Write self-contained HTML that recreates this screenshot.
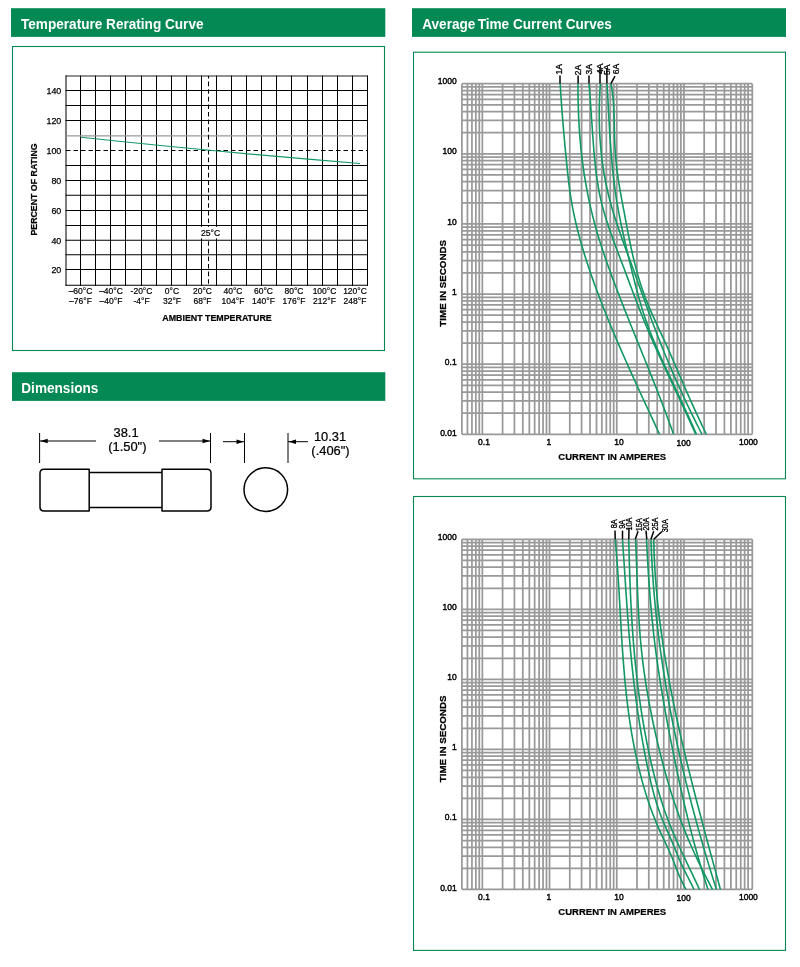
<!DOCTYPE html>
<html lang="en"><head><meta charset="utf-8"><title>Fuse Curves</title>
<style>html,body{margin:0;padding:0;background:#fff;}body{width:800px;height:967px;overflow:hidden;}svg{display:block;}text{font-family:"Liberation Sans", Arial, Helvetica, sans-serif;}</style>
</head><body>
<svg width="800" height="967" viewBox="0 0 800 967">
<rect width="800" height="967" fill="#fff"/>
<rect x="11" y="8.2" width="374.3" height="28.7" fill="#058954"/>
<text transform="translate(21 28.65) scale(0.919 1)" font-size="14.8" font-weight="bold" fill="#fff">Temperature Rerating Curve</text>
<rect x="412" y="8.2" width="374" height="28.7" fill="#058954"/>
<text transform="translate(422.2 28.65) scale(0.919 1)" font-size="14.8" font-weight="bold" fill="#fff">Average<tspan dx="-1.6"> Time</tspan> Current Curves</text>
<rect x="12" y="372.2" width="373.3" height="28.7" fill="#058954"/>
<text transform="translate(21.3 392.75) scale(0.919 1)" font-size="14.8" font-weight="bold" fill="#fff">Dimensions</text>
<rect x="12.5" y="46.5" width="372" height="304" fill="none" stroke="#058954" stroke-width="1.1"/>
<rect x="413.5" y="52.2" width="372" height="426.6" fill="none" stroke="#058954" stroke-width="1.1"/>
<rect x="413.5" y="496.5" width="372" height="453.9" fill="none" stroke="#058954" stroke-width="1.1"/>
<g stroke="#000" stroke-width="1.05" fill="none">
<line x1="66.00" y1="75.50" x2="66.00" y2="285.80" stroke-width="1.2" stroke="#222"/>
<line x1="80.50" y1="75.50" x2="80.50" y2="285.80"/>
<line x1="95.50" y1="75.50" x2="95.50" y2="285.80"/>
<line x1="110.50" y1="75.50" x2="110.50" y2="285.80"/>
<line x1="125.50" y1="75.50" x2="125.50" y2="285.80"/>
<line x1="141.50" y1="75.50" x2="141.50" y2="285.80"/>
<line x1="156.50" y1="75.50" x2="156.50" y2="285.80"/>
<line x1="171.50" y1="75.50" x2="171.50" y2="285.80"/>
<line x1="186.50" y1="75.50" x2="186.50" y2="285.80"/>
<line x1="201.50" y1="75.50" x2="201.50" y2="285.80"/>
<line x1="216.50" y1="75.50" x2="216.50" y2="285.80"/>
<line x1="231.50" y1="75.50" x2="231.50" y2="285.80"/>
<line x1="246.50" y1="75.50" x2="246.50" y2="285.80"/>
<line x1="261.50" y1="75.50" x2="261.50" y2="285.80"/>
<line x1="276.50" y1="75.50" x2="276.50" y2="285.80"/>
<line x1="291.50" y1="75.50" x2="291.50" y2="285.80"/>
<line x1="307.50" y1="75.50" x2="307.50" y2="285.80"/>
<line x1="322.50" y1="75.50" x2="322.50" y2="285.80"/>
<line x1="337.50" y1="75.50" x2="337.50" y2="285.80"/>
<line x1="352.50" y1="75.50" x2="352.50" y2="285.80"/>
<line x1="367.50" y1="75.50" x2="367.50" y2="285.80"/>
<line x1="65.50" y1="76.00" x2="368.00" y2="76.00" stroke-width="1.2" stroke="#222"/>
<line x1="65.50" y1="90.50" x2="368.00" y2="90.50"/>
<line x1="65.50" y1="105.50" x2="368.00" y2="105.50"/>
<line x1="65.50" y1="120.50" x2="368.00" y2="120.50"/>
<line x1="66.00" y1="135.80" x2="367.50" y2="135.80" stroke="#999" stroke-width="1.15"/>
<line x1="65.50" y1="165.50" x2="368.00" y2="165.50"/>
<line x1="65.50" y1="180.50" x2="368.00" y2="180.50"/>
<line x1="65.50" y1="195.22" x2="368.00" y2="195.22"/>
<line x1="65.50" y1="210.50" x2="368.00" y2="210.50"/>
<line x1="65.50" y1="225.50" x2="368.00" y2="225.50"/>
<line x1="65.50" y1="240.25" x2="368.00" y2="240.25"/>
<line x1="65.50" y1="254.75" x2="368.00" y2="254.75"/>
<line x1="65.50" y1="269.50" x2="368.00" y2="269.50"/>
<line x1="65.50" y1="285.30" x2="368.00" y2="285.30"/>
<line x1="66.00" y1="150.50" x2="367.50" y2="150.50" stroke-dasharray="4.5 3"/>
<line x1="208.50" y1="76.00" x2="208.50" y2="285.30" stroke-dasharray="4.6 3" stroke-dashoffset="2"/>
</g>
<path d="M80.90 137.30 Q209.17 151.20 360.07 163.46" stroke="#119863" stroke-width="1.15" fill="none"/>
<g font-size="8.9" text-anchor="end" fill="#000" stroke="#000" stroke-width="0.25">
<text x="61.3" y="273.45">20</text>
<text x="61.3" y="243.55">40</text>
<text x="61.3" y="213.65">60</text>
<text x="61.3" y="183.75">80</text>
<text x="61.3" y="153.85">100</text>
<text x="61.3" y="123.95">120</text>
<text x="61.3" y="94.05">140</text>
</g>
<text transform="translate(37.3 189.5) rotate(-90)" font-size="8.8" font-weight="bold" text-anchor="middle" stroke="#000" stroke-width="0.2">PERCENT OF RATING</text>
<g font-size="8.5" text-anchor="middle" fill="#000" stroke="#000" stroke-width="0.2">
<text x="80.50" y="294">–60°C</text>
<text x="80.50" y="304">–76°F</text>
<text x="111.00" y="294">–40°C</text>
<text x="111.00" y="304">–40°F</text>
<text x="141.50" y="294">-20°C</text>
<text x="141.50" y="304">-4°F</text>
<text x="172.00" y="294">0°C</text>
<text x="172.00" y="304">32°F</text>
<text x="202.50" y="294">20°C</text>
<text x="202.50" y="304">68°F</text>
<text x="233.00" y="294">40°C</text>
<text x="233.00" y="304">104°F</text>
<text x="263.50" y="294">60°C</text>
<text x="263.50" y="304">140°F</text>
<text x="294.00" y="294">80°C</text>
<text x="294.00" y="304">176°F</text>
<text x="324.50" y="294">100°C</text>
<text x="324.50" y="304">212°F</text>
<text x="355.00" y="294">120°C</text>
<text x="355.00" y="304">248°F</text>
</g>
<rect x="200.5" y="226.8" width="20" height="11.6" fill="#fff"/>
<text x="201" y="235.5" font-size="8.6" stroke="#000" stroke-width="0.2">25°C</text>
<text x="217" y="320.5" font-size="8.85" font-weight="bold" text-anchor="middle" stroke="#000" stroke-width="0.2">AMBIENT TEMPERATURE</text>
<g stroke="#000" stroke-width="1" fill="none">
<line x1="39.6" y1="433" x2="39.6" y2="463"/>
<line x1="210.5" y1="433" x2="210.5" y2="463"/>
<line x1="244.5" y1="433" x2="244.5" y2="463"/>
<line x1="288" y1="433" x2="288" y2="463"/>
<line x1="40" y1="441" x2="96" y2="441"/>
<line x1="159" y1="441" x2="210" y2="441"/>
<line x1="223" y1="441.7" x2="244" y2="441.7"/>
<line x1="288" y1="441.7" x2="308" y2="441.7"/>
</g>
<path d="M40.2 441 L47.7 438.8 L47.7 443.2 Z" fill="#000"/>
<path d="M210 441 L202.5 438.8 L202.5 443.2 Z" fill="#000"/>
<path d="M244 441.7 L236.5 439.5 L236.5 443.9 Z" fill="#000"/>
<path d="M288.5 441.7 L296 439.5 L296 443.9 Z" fill="#000"/>
<g stroke="#000" stroke-width="1.5" fill="#fff" stroke-linejoin="round">
<rect x="88" y="472.6" width="75" height="34.9"/>
<path d="M89.2 469.3 H44 Q40 469.3 40 473.3 V507 Q40 511 44 511 H89.2 Z"/>
<path d="M162 469.3 H207 Q211 469.3 211 473.3 V507 Q211 511 207 511 H162 Z"/>
<circle cx="265.8" cy="489.6" r="21.8"/>
</g>
<g font-size="13.4" text-anchor="middle" fill="#000" stroke="#000" stroke-width="0.25">
<text transform="translate(126 437) scale(0.963 1)">38.1</text>
<text transform="translate(127.3 450.5) scale(0.963 1)">(1.50")</text>
<text transform="translate(330 441.4) scale(0.963 1)">10.31</text>
<text transform="translate(330.5 455.4) scale(0.963 1)">(.406")</text>
</g>
<g stroke="#999999" stroke-width="1.75" fill="none">
<line x1="461.92" y1="83.70" x2="461.92" y2="434.35"/>
<line x1="467.44" y1="83.70" x2="467.44" y2="434.35"/>
<line x1="471.94" y1="83.70" x2="471.94" y2="434.35"/>
<line x1="475.84" y1="83.70" x2="475.84" y2="434.35"/>
<line x1="479.28" y1="83.70" x2="479.28" y2="434.35"/>
<line x1="482.35" y1="83.70" x2="482.35" y2="434.35"/>
<line x1="502.58" y1="83.70" x2="502.58" y2="434.35"/>
<line x1="514.41" y1="83.70" x2="514.41" y2="434.35"/>
<line x1="522.81" y1="83.70" x2="522.81" y2="434.35"/>
<line x1="529.32" y1="83.70" x2="529.32" y2="434.35"/>
<line x1="534.64" y1="83.70" x2="534.64" y2="434.35"/>
<line x1="539.14" y1="83.70" x2="539.14" y2="434.35"/>
<line x1="543.04" y1="83.70" x2="543.04" y2="434.35"/>
<line x1="546.48" y1="83.70" x2="546.48" y2="434.35"/>
<line x1="549.55" y1="83.70" x2="549.55" y2="434.35"/>
<line x1="569.78" y1="83.70" x2="569.78" y2="434.35"/>
<line x1="581.61" y1="83.70" x2="581.61" y2="434.35"/>
<line x1="590.01" y1="83.70" x2="590.01" y2="434.35"/>
<line x1="596.52" y1="83.70" x2="596.52" y2="434.35"/>
<line x1="601.84" y1="83.70" x2="601.84" y2="434.35"/>
<line x1="606.34" y1="83.70" x2="606.34" y2="434.35"/>
<line x1="610.24" y1="83.70" x2="610.24" y2="434.35"/>
<line x1="613.68" y1="83.70" x2="613.68" y2="434.35"/>
<line x1="616.75" y1="83.70" x2="616.75" y2="434.35"/>
<line x1="636.98" y1="83.70" x2="636.98" y2="434.35"/>
<line x1="648.81" y1="83.70" x2="648.81" y2="434.35"/>
<line x1="657.21" y1="83.70" x2="657.21" y2="434.35"/>
<line x1="663.72" y1="83.70" x2="663.72" y2="434.35"/>
<line x1="669.04" y1="83.70" x2="669.04" y2="434.35"/>
<line x1="673.54" y1="83.70" x2="673.54" y2="434.35"/>
<line x1="677.44" y1="83.70" x2="677.44" y2="434.35"/>
<line x1="680.88" y1="83.70" x2="680.88" y2="434.35"/>
<line x1="683.95" y1="83.70" x2="683.95" y2="434.35"/>
<line x1="704.18" y1="83.70" x2="704.18" y2="434.35"/>
<line x1="716.01" y1="83.70" x2="716.01" y2="434.35"/>
<line x1="724.41" y1="83.70" x2="724.41" y2="434.35"/>
<line x1="730.92" y1="83.70" x2="730.92" y2="434.35"/>
<line x1="736.24" y1="83.70" x2="736.24" y2="434.35"/>
<line x1="740.74" y1="83.70" x2="740.74" y2="434.35"/>
<line x1="744.64" y1="83.70" x2="744.64" y2="434.35"/>
<line x1="748.08" y1="83.70" x2="748.08" y2="434.35"/>
<line x1="752.30" y1="83.70" x2="752.30" y2="434.35"/>
<line x1="461.92" y1="434.35" x2="752.30" y2="434.35"/>
<line x1="461.92" y1="413.24" x2="752.30" y2="413.24"/>
<line x1="461.92" y1="400.89" x2="752.30" y2="400.89"/>
<line x1="461.92" y1="392.13" x2="752.30" y2="392.13"/>
<line x1="461.92" y1="385.33" x2="752.30" y2="385.33"/>
<line x1="461.92" y1="379.78" x2="752.30" y2="379.78"/>
<line x1="461.92" y1="375.08" x2="752.30" y2="375.08"/>
<line x1="461.92" y1="371.02" x2="752.30" y2="371.02"/>
<line x1="461.92" y1="367.43" x2="752.30" y2="367.43"/>
<line x1="461.92" y1="364.22" x2="752.30" y2="364.22"/>
<line x1="461.92" y1="343.11" x2="752.30" y2="343.11"/>
<line x1="461.92" y1="330.76" x2="752.30" y2="330.76"/>
<line x1="461.92" y1="322.00" x2="752.30" y2="322.00"/>
<line x1="461.92" y1="315.20" x2="752.30" y2="315.20"/>
<line x1="461.92" y1="309.65" x2="752.30" y2="309.65"/>
<line x1="461.92" y1="304.95" x2="752.30" y2="304.95"/>
<line x1="461.92" y1="300.89" x2="752.30" y2="300.89"/>
<line x1="461.92" y1="297.30" x2="752.30" y2="297.30"/>
<line x1="461.92" y1="294.09" x2="752.30" y2="294.09"/>
<line x1="461.92" y1="272.98" x2="752.30" y2="272.98"/>
<line x1="461.92" y1="260.63" x2="752.30" y2="260.63"/>
<line x1="461.92" y1="251.87" x2="752.30" y2="251.87"/>
<line x1="461.92" y1="245.07" x2="752.30" y2="245.07"/>
<line x1="461.92" y1="239.52" x2="752.30" y2="239.52"/>
<line x1="461.92" y1="234.82" x2="752.30" y2="234.82"/>
<line x1="461.92" y1="230.76" x2="752.30" y2="230.76"/>
<line x1="461.92" y1="227.17" x2="752.30" y2="227.17"/>
<line x1="461.92" y1="223.96" x2="752.30" y2="223.96"/>
<line x1="461.92" y1="202.85" x2="752.30" y2="202.85"/>
<line x1="461.92" y1="190.50" x2="752.30" y2="190.50"/>
<line x1="461.92" y1="181.74" x2="752.30" y2="181.74"/>
<line x1="461.92" y1="174.94" x2="752.30" y2="174.94"/>
<line x1="461.92" y1="169.39" x2="752.30" y2="169.39"/>
<line x1="461.92" y1="164.69" x2="752.30" y2="164.69"/>
<line x1="461.92" y1="160.63" x2="752.30" y2="160.63"/>
<line x1="461.92" y1="157.04" x2="752.30" y2="157.04"/>
<line x1="461.92" y1="153.83" x2="752.30" y2="153.83"/>
<line x1="461.92" y1="132.72" x2="752.30" y2="132.72"/>
<line x1="461.92" y1="120.37" x2="752.30" y2="120.37"/>
<line x1="461.92" y1="111.61" x2="752.30" y2="111.61"/>
<line x1="461.92" y1="104.81" x2="752.30" y2="104.81"/>
<line x1="461.92" y1="99.26" x2="752.30" y2="99.26"/>
<line x1="461.92" y1="94.56" x2="752.30" y2="94.56"/>
<line x1="461.92" y1="90.50" x2="752.30" y2="90.50"/>
<line x1="461.92" y1="86.91" x2="752.30" y2="86.91"/>
<line x1="461.92" y1="83.70" x2="752.30" y2="83.70"/>
</g>
<g font-size="8.5" fill="#000" stroke="#000" stroke-width="0.4" text-anchor="end">
<text x="456.7" y="84.00">1000</text>
<text x="456.7" y="154.13">100</text>
<text x="456.7" y="224.56">10</text>
<text x="456.7" y="294.59">1</text>
<text x="456.7" y="365.02">0.1</text>
<text x="456.7" y="435.65">0.01</text>
</g>
<g font-size="8.5" fill="#000" stroke="#000" stroke-width="0.4" text-anchor="middle">
<text x="484.00" y="444.95">0.1</text>
<text x="548.80" y="444.95">1</text>
<text x="619.00" y="444.85">10</text>
<text x="683.60" y="445.95">100</text>
<text x="748.40" y="444.95">1000</text>
</g>
<text x="612.3" y="459.75" font-size="9.5" font-weight="bold" text-anchor="middle" stroke="#000" stroke-width="0.2">CURRENT IN AMPERES</text>
<text transform="translate(446.4 283.30) rotate(-90)" font-size="9.75" font-weight="bold" text-anchor="middle" stroke="#000" stroke-width="0.25">TIME IN SECONDS</text>
<g stroke="#119863" stroke-width="1.6" fill="none" stroke-linejoin="round">
<path d="M560.17 83.70 C560.23 84.71 560.41 87.73 560.54 89.74 C560.66 91.76 560.79 93.77 560.92 95.79 C561.06 97.80 561.20 99.82 561.34 101.83 C561.48 103.85 561.62 105.86 561.77 107.88 C561.92 109.89 562.08 111.91 562.23 113.92 C562.39 115.94 562.55 117.95 562.71 119.97 C562.88 121.98 563.04 124.00 563.21 126.01 C563.38 128.03 563.55 130.04 563.73 132.06 C563.91 134.07 564.08 136.09 564.27 138.10 C564.45 140.12 564.63 142.13 564.82 144.15 C565.00 146.16 565.19 148.18 565.38 150.19 C565.58 152.21 565.77 154.22 565.97 156.24 C566.16 158.25 566.36 160.27 566.56 162.28 C566.76 164.30 566.96 166.31 567.17 168.33 C567.38 170.34 567.59 172.36 567.82 174.37 C568.04 176.39 568.27 178.40 568.51 180.42 C568.75 182.43 569.00 184.45 569.26 186.46 C569.53 188.48 569.80 190.49 570.09 192.51 C570.39 194.52 570.69 196.54 571.02 198.55 C571.34 200.57 571.68 202.58 572.05 204.60 C572.41 206.61 572.79 208.63 573.19 210.64 C573.59 212.66 574.01 214.67 574.44 216.69 C574.88 218.70 575.33 220.72 575.80 222.73 C576.27 224.75 576.76 226.76 577.26 228.78 C577.77 230.79 578.29 232.81 578.82 234.82 C579.36 236.84 579.91 238.85 580.47 240.87 C581.03 242.88 581.61 244.90 582.20 246.91 C582.79 248.93 583.40 250.94 584.02 252.96 C584.64 254.97 585.27 256.99 585.91 259.00 C586.55 261.01 587.21 263.03 587.87 265.04 C588.54 267.06 589.22 269.07 589.91 271.09 C590.59 273.10 591.29 275.12 592.00 277.13 C592.71 279.15 593.42 281.16 594.15 283.18 C594.88 285.19 595.61 287.21 596.36 289.22 C597.10 291.24 597.86 293.25 598.62 295.27 C599.38 297.28 600.15 299.30 600.93 301.31 C601.71 303.33 602.49 305.34 603.29 307.36 C604.08 309.37 604.88 311.39 605.69 313.40 C606.50 315.42 607.31 317.43 608.14 319.45 C608.96 321.46 609.79 323.48 610.62 325.49 C611.46 327.51 612.30 329.52 613.15 331.54 C614.00 333.55 614.85 335.57 615.71 337.58 C616.57 339.60 617.43 341.61 618.30 343.63 C619.17 345.64 620.05 347.66 620.93 349.67 C621.81 351.69 622.69 353.70 623.58 355.72 C624.47 357.73 625.36 359.75 626.26 361.76 C627.16 363.78 628.06 365.79 628.96 367.81 C629.87 369.82 630.78 371.84 631.69 373.85 C632.60 375.87 633.52 377.88 634.43 379.90 C635.35 381.91 636.27 383.93 637.19 385.94 C638.11 387.96 639.04 389.97 639.97 391.99 C640.89 394.00 641.82 396.02 642.75 398.03 C643.68 400.05 644.61 402.06 645.55 404.08 C646.48 406.09 647.41 408.11 648.35 410.12 C649.28 412.14 650.22 414.15 651.15 416.17 C652.09 418.18 653.02 420.20 653.96 422.21 C654.89 424.23 655.83 426.24 656.77 428.26 C657.70 430.27 659.10 433.29 659.57 434.30"/>
<path d="M577.99 83.70 C577.99 84.71 577.99 87.73 578.00 89.74 C578.01 91.76 578.02 93.77 578.05 95.79 C578.08 97.80 578.11 99.82 578.16 101.83 C578.20 103.85 578.26 105.86 578.32 107.88 C578.38 109.89 578.45 111.91 578.53 113.92 C578.62 115.94 578.71 117.95 578.81 119.97 C578.91 121.98 579.02 124.00 579.14 126.01 C579.26 128.03 579.39 130.04 579.54 132.06 C579.68 134.07 579.83 136.09 580.00 138.10 C580.16 140.12 580.34 142.13 580.53 144.15 C580.71 146.16 580.91 148.18 581.12 150.19 C581.33 152.21 581.56 154.22 581.79 156.24 C582.03 158.25 582.27 160.27 582.53 162.28 C582.79 164.30 583.06 166.31 583.35 168.33 C583.64 170.34 583.93 172.36 584.25 174.37 C584.56 176.39 584.88 178.40 585.22 180.42 C585.56 182.43 585.91 184.45 586.28 186.46 C586.65 188.48 587.03 190.49 587.42 192.51 C587.82 194.52 588.23 196.54 588.65 198.55 C589.08 200.57 589.51 202.58 589.97 204.60 C590.42 206.61 590.89 208.63 591.37 210.64 C591.85 212.66 592.35 214.67 592.86 216.69 C593.37 218.70 593.89 220.72 594.43 222.73 C594.97 224.75 595.53 226.76 596.09 228.78 C596.66 230.79 597.25 232.81 597.84 234.82 C598.44 236.84 599.05 238.85 599.68 240.87 C600.30 242.88 600.94 244.90 601.60 246.91 C602.25 248.93 602.92 250.94 603.59 252.96 C604.27 254.97 604.96 256.99 605.66 259.00 C606.36 261.01 607.07 263.03 607.79 265.04 C608.51 267.06 609.23 269.07 609.97 271.09 C610.70 273.10 611.44 275.12 612.19 277.13 C612.94 279.15 613.69 281.16 614.45 283.18 C615.21 285.19 615.98 287.21 616.75 289.22 C617.52 291.24 618.29 293.25 619.07 295.27 C619.85 297.28 620.63 299.30 621.42 301.31 C622.21 303.33 623.00 305.34 623.79 307.36 C624.59 309.37 625.39 311.39 626.19 313.40 C626.99 315.42 627.79 317.43 628.60 319.45 C629.40 321.46 630.21 323.48 631.02 325.49 C631.83 327.51 632.64 329.52 633.46 331.54 C634.27 333.55 635.09 335.57 635.90 337.58 C636.72 339.60 637.53 341.61 638.35 343.63 C639.17 345.64 639.98 347.66 640.80 349.67 C641.62 351.69 642.43 353.70 643.25 355.72 C644.07 357.73 644.88 359.75 645.69 361.76 C646.51 363.78 647.32 365.79 648.13 367.81 C648.94 369.82 649.75 371.84 650.56 373.85 C651.37 375.87 652.17 377.88 652.97 379.90 C653.77 381.91 654.57 383.93 655.37 385.94 C656.16 387.96 656.96 389.97 657.74 391.99 C658.53 394.00 659.32 396.02 660.10 398.03 C660.88 400.05 661.65 402.06 662.42 404.08 C663.19 406.09 663.96 408.11 664.72 410.12 C665.48 412.14 666.24 414.15 666.99 416.17 C667.74 418.18 668.48 420.20 669.22 422.21 C669.95 424.23 670.68 426.24 671.41 428.26 C672.13 430.27 673.20 433.29 673.56 434.30"/>
<path d="M588.99 83.70 C589.07 84.71 589.33 87.73 589.49 89.74 C589.65 91.76 589.80 93.77 589.96 95.79 C590.11 97.80 590.26 99.82 590.41 101.83 C590.55 103.85 590.70 105.86 590.84 107.88 C590.98 109.89 591.12 111.91 591.26 113.92 C591.40 115.94 591.54 117.95 591.67 119.97 C591.81 121.98 591.95 124.00 592.09 126.01 C592.23 128.03 592.37 130.04 592.51 132.06 C592.65 134.07 592.79 136.09 592.94 138.10 C593.09 140.12 593.23 142.13 593.39 144.15 C593.54 146.16 593.70 148.18 593.86 150.19 C594.03 152.21 594.20 154.22 594.38 156.24 C594.56 158.25 594.76 160.27 594.96 162.28 C595.17 164.30 595.38 166.31 595.61 168.33 C595.85 170.34 596.09 172.36 596.36 174.37 C596.63 176.39 596.91 178.40 597.21 180.42 C597.52 182.43 597.84 184.45 598.19 186.46 C598.54 188.48 598.91 190.49 599.30 192.51 C599.70 194.52 600.12 196.54 600.57 198.55 C601.02 200.57 601.50 202.58 602.01 204.60 C602.52 206.61 603.06 208.63 603.62 210.64 C604.18 212.66 604.77 214.67 605.38 216.69 C605.99 218.70 606.63 220.72 607.28 222.73 C607.94 224.75 608.61 226.76 609.30 228.78 C609.99 230.79 610.69 232.81 611.41 234.82 C612.13 236.84 612.86 238.85 613.60 240.87 C614.34 242.88 615.09 244.90 615.84 246.91 C616.60 248.93 617.36 250.94 618.13 252.96 C618.89 254.97 619.66 256.99 620.43 259.00 C621.19 261.01 621.96 263.03 622.73 265.04 C623.49 267.06 624.25 269.07 625.01 271.09 C625.77 273.10 626.53 275.12 627.28 277.13 C628.04 279.15 628.80 281.16 629.55 283.18 C630.31 285.19 631.07 287.21 631.83 289.22 C632.59 291.24 633.35 293.25 634.11 295.27 C634.88 297.28 635.65 299.30 636.42 301.31 C637.20 303.33 637.97 305.34 638.76 307.36 C639.55 309.37 640.34 311.39 641.14 313.40 C641.94 315.42 642.74 317.43 643.56 319.45 C644.38 321.46 645.20 323.48 646.04 325.49 C646.87 327.51 647.72 329.52 648.58 331.54 C649.44 333.55 650.30 335.57 651.18 337.58 C652.06 339.60 652.94 341.61 653.84 343.63 C654.73 345.64 655.63 347.66 656.54 349.67 C657.45 351.69 658.37 353.70 659.29 355.72 C660.21 357.73 661.14 359.75 662.07 361.76 C663.00 363.78 663.94 365.79 664.88 367.81 C665.82 369.82 666.76 371.84 667.71 373.85 C668.65 375.87 669.60 377.88 670.55 379.90 C671.50 381.91 672.45 383.93 673.40 385.94 C674.35 387.96 675.30 389.97 676.25 391.99 C677.20 394.00 678.15 396.02 679.10 398.03 C680.05 400.05 680.99 402.06 681.94 404.08 C682.88 406.09 683.82 408.11 684.75 410.12 C685.69 412.14 686.62 414.15 687.54 416.17 C688.47 418.18 689.39 420.20 690.30 422.21 C691.21 424.23 692.12 426.24 693.02 428.26 C693.91 430.27 695.24 433.29 695.69 434.30"/>
<path d="M600.40 83.70 C600.33 84.71 600.12 87.73 600.00 89.74 C599.88 91.76 599.78 93.77 599.68 95.79 C599.59 97.80 599.51 99.82 599.45 101.83 C599.39 103.85 599.34 105.86 599.31 107.88 C599.27 109.89 599.25 111.91 599.25 113.92 C599.25 115.94 599.26 117.95 599.28 119.97 C599.31 121.98 599.36 124.00 599.42 126.01 C599.48 128.03 599.55 130.04 599.64 132.06 C599.74 134.07 599.85 136.09 599.97 138.10 C600.10 140.12 600.24 142.13 600.41 144.15 C600.57 146.16 600.75 148.18 600.94 150.19 C601.14 152.21 601.36 154.22 601.59 156.24 C601.83 158.25 602.08 160.27 602.35 162.28 C602.62 164.30 602.91 166.31 603.22 168.33 C603.53 170.34 603.86 172.36 604.21 174.37 C604.56 176.39 604.93 178.40 605.32 180.42 C605.71 182.43 606.12 184.45 606.55 186.46 C606.98 188.48 607.43 190.49 607.91 192.51 C608.38 194.52 608.87 196.54 609.39 198.55 C609.90 200.57 610.44 202.58 611.00 204.60 C611.56 206.61 612.14 208.63 612.74 210.64 C613.34 212.66 613.96 214.67 614.59 216.69 C615.23 218.70 615.88 220.72 616.54 222.73 C617.21 224.75 617.89 226.76 618.58 228.78 C619.27 230.79 619.97 232.81 620.68 234.82 C621.39 236.84 622.11 238.85 622.83 240.87 C623.56 242.88 624.29 244.90 625.02 246.91 C625.76 248.93 626.50 250.94 627.24 252.96 C627.98 254.97 628.73 256.99 629.47 259.00 C630.21 261.01 630.95 263.03 631.69 265.04 C632.43 267.06 633.16 269.07 633.89 271.09 C634.63 273.10 635.36 275.12 636.09 277.13 C636.81 279.15 637.54 281.16 638.27 283.18 C638.99 285.19 639.72 287.21 640.44 289.22 C641.17 291.24 641.89 293.25 642.62 295.27 C643.35 297.28 644.07 299.30 644.81 301.31 C645.54 303.33 646.27 305.34 647.00 307.36 C647.74 309.37 648.47 311.39 649.21 313.40 C649.96 315.42 650.70 317.43 651.45 319.45 C652.20 321.46 652.95 323.48 653.71 325.49 C654.47 327.51 655.24 329.52 656.01 331.54 C656.78 333.55 657.56 335.57 658.34 337.58 C659.13 339.60 659.92 341.61 660.72 343.63 C661.52 345.64 662.33 347.66 663.14 349.67 C663.96 351.69 664.78 353.70 665.61 355.72 C666.44 357.73 667.28 359.75 668.12 361.76 C668.97 363.78 669.82 365.79 670.69 367.81 C671.55 369.82 672.42 371.84 673.29 373.85 C674.17 375.87 675.06 377.88 675.95 379.90 C676.84 381.91 677.74 383.93 678.65 385.94 C679.56 387.96 680.47 389.97 681.40 391.99 C682.32 394.00 683.26 396.02 684.20 398.03 C685.14 400.05 686.09 402.06 687.04 404.08 C688.00 406.09 688.96 408.11 689.94 410.12 C690.91 412.14 691.89 414.15 692.88 416.17 C693.87 418.18 694.86 420.20 695.87 422.21 C696.87 424.23 697.89 426.24 698.91 428.26 C699.93 430.27 701.48 433.29 702.00 434.30"/>
<path d="M607.00 83.70 C607.06 84.71 607.24 87.73 607.36 89.74 C607.47 91.76 607.59 93.77 607.70 95.79 C607.81 97.80 607.92 99.82 608.03 101.83 C608.14 103.85 608.24 105.86 608.35 107.88 C608.46 109.89 608.57 111.91 608.68 113.92 C608.79 115.94 608.90 117.95 609.01 119.97 C609.12 121.98 609.24 124.00 609.36 126.01 C609.47 128.03 609.59 130.04 609.72 132.06 C609.84 134.07 609.97 136.09 610.10 138.10 C610.23 140.12 610.37 142.13 610.51 144.15 C610.65 146.16 610.80 148.18 610.96 150.19 C611.11 152.21 611.27 154.22 611.44 156.24 C611.61 158.25 611.78 160.27 611.97 162.28 C612.15 164.30 612.34 166.31 612.55 168.33 C612.75 170.34 612.96 172.36 613.18 174.37 C613.40 176.39 613.63 178.40 613.87 180.42 C614.11 182.43 614.37 184.45 614.63 186.46 C614.89 188.48 615.17 190.49 615.46 192.51 C615.75 194.52 616.05 196.54 616.37 198.55 C616.68 200.57 617.01 202.58 617.35 204.60 C617.70 206.61 618.06 208.63 618.43 210.64 C618.80 212.66 619.18 214.67 619.57 216.69 C619.96 218.70 620.37 220.72 620.78 222.73 C621.20 224.75 621.62 226.76 622.06 228.78 C622.49 230.79 622.93 232.81 623.38 234.82 C623.83 236.84 624.28 238.85 624.75 240.87 C625.21 242.88 625.68 244.90 626.15 246.91 C626.62 248.93 627.10 250.94 627.58 252.96 C628.06 254.97 628.54 256.99 629.03 259.00 C629.51 261.01 630.00 263.03 630.49 265.04 C630.98 267.06 631.46 269.07 631.96 271.09 C632.45 273.10 632.94 275.12 633.44 277.13 C633.95 279.15 634.45 281.16 634.97 283.18 C635.48 285.19 636.00 287.21 636.54 289.22 C637.07 291.24 637.61 293.25 638.17 295.27 C638.73 297.28 639.29 299.30 639.88 301.31 C640.47 303.33 641.07 305.34 641.68 307.36 C642.30 309.37 642.94 311.39 643.59 313.40 C644.25 315.42 644.92 317.43 645.61 319.45 C646.30 321.46 647.01 323.48 647.75 325.49 C648.48 327.51 649.24 329.52 650.01 331.54 C650.79 333.55 651.59 335.57 652.40 337.58 C653.22 339.60 654.05 341.61 654.90 343.63 C655.75 345.64 656.61 347.66 657.49 349.67 C658.36 351.69 659.26 353.70 660.16 355.72 C661.06 357.73 661.97 359.75 662.89 361.76 C663.81 363.78 664.74 365.79 665.68 367.81 C666.61 369.82 667.56 371.84 668.50 373.85 C669.45 375.87 670.40 377.88 671.35 379.90 C672.30 381.91 673.25 383.93 674.21 385.94 C675.16 387.96 676.11 389.97 677.06 391.99 C678.01 394.00 678.96 396.02 679.90 398.03 C680.85 400.05 681.79 402.06 682.73 404.08 C683.67 406.09 684.61 408.11 685.54 410.12 C686.47 412.14 687.40 414.15 688.33 416.17 C689.25 418.18 690.17 420.20 691.08 422.21 C692.00 424.23 692.90 426.24 693.81 428.26 C694.71 430.27 696.04 433.29 696.49 434.30"/>
<path d="M611.00 83.70 C611.17 84.71 611.74 87.73 612.04 89.74 C612.35 91.76 612.60 93.77 612.82 95.79 C613.05 97.80 613.23 99.82 613.39 101.83 C613.54 103.85 613.66 105.86 613.77 107.88 C613.88 109.89 613.95 111.91 614.02 113.92 C614.09 115.94 614.14 117.95 614.19 119.97 C614.23 121.98 614.27 124.00 614.30 126.01 C614.34 128.03 614.38 130.04 614.42 132.06 C614.47 134.07 614.51 136.09 614.58 138.10 C614.65 140.12 614.73 142.13 614.83 144.15 C614.93 146.16 615.04 148.18 615.17 150.19 C615.30 152.21 615.45 154.22 615.62 156.24 C615.78 158.25 615.97 160.27 616.17 162.28 C616.37 164.30 616.58 166.31 616.82 168.33 C617.05 170.34 617.30 172.36 617.57 174.37 C617.83 176.39 618.12 178.40 618.42 180.42 C618.72 182.43 619.04 184.45 619.38 186.46 C619.72 188.48 620.07 190.49 620.44 192.51 C620.81 194.52 621.20 196.54 621.58 198.55 C621.96 200.57 622.35 202.58 622.73 204.60 C623.11 206.61 623.49 208.63 623.86 210.64 C624.24 212.66 624.62 214.67 624.99 216.69 C625.37 218.70 625.74 220.72 626.12 222.73 C626.50 224.75 626.88 226.76 627.27 228.78 C627.65 230.79 628.04 232.81 628.44 234.82 C628.84 236.84 629.24 238.85 629.65 240.87 C630.07 242.88 630.49 244.90 630.92 246.91 C631.35 248.93 631.80 250.94 632.25 252.96 C632.71 254.97 633.17 256.99 633.66 259.00 C634.14 261.01 634.64 263.03 635.15 265.04 C635.67 267.06 636.20 269.07 636.75 271.09 C637.30 273.10 637.87 275.12 638.46 277.13 C639.05 279.15 639.67 281.16 640.30 283.18 C640.94 285.19 641.60 287.21 642.28 289.22 C642.97 291.24 643.67 293.25 644.41 295.27 C645.15 297.28 645.92 299.30 646.71 301.31 C647.51 303.33 648.33 305.34 649.18 307.36 C650.03 309.37 650.91 311.39 651.81 313.40 C652.70 315.42 653.61 317.43 654.54 319.45 C655.46 321.46 656.40 323.48 657.34 325.49 C658.28 327.51 659.23 329.52 660.17 331.54 C661.11 333.55 662.05 335.57 662.99 337.58 C663.92 339.60 664.84 341.61 665.75 343.63 C666.67 345.64 667.57 347.66 668.46 349.67 C669.36 351.69 670.24 353.70 671.12 355.72 C672.01 357.73 672.88 359.75 673.75 361.76 C674.63 363.78 675.49 365.79 676.36 367.81 C677.23 369.82 678.09 371.84 678.96 373.85 C679.83 375.87 680.69 377.88 681.57 379.90 C682.44 381.91 683.31 383.93 684.19 385.94 C685.07 387.96 685.95 389.97 686.84 391.99 C687.73 394.00 688.63 396.02 689.53 398.03 C690.43 400.05 691.33 402.06 692.24 404.08 C693.15 406.09 694.07 408.11 694.99 410.12 C695.91 412.14 696.84 414.15 697.77 416.17 C698.70 418.18 699.64 420.20 700.58 422.21 C701.52 424.23 702.47 426.24 703.42 428.26 C704.38 430.27 705.82 433.29 706.30 434.30"/>
</g>
<line x1="560" y1="75.6" x2="560" y2="83.6" stroke="#000" stroke-width="1.5"/>
<text transform="translate(562.3 74.6) rotate(-90) scale(1 1)" font-size="8.5" fill="#000" stroke="#000" stroke-width="0.3">1A</text>
<line x1="578.1" y1="75.6" x2="578.1" y2="83.6" stroke="#000" stroke-width="1.5"/>
<text transform="translate(580.6 75.2) rotate(-90) scale(1 1)" font-size="8.5" fill="#000" stroke="#000" stroke-width="0.3">2A</text>
<line x1="589" y1="75.6" x2="589" y2="83.6" stroke="#000" stroke-width="1.5"/>
<text transform="translate(591.9 74.6) rotate(-90) scale(1 1)" font-size="8.5" fill="#000" stroke="#000" stroke-width="0.3">3A</text>
<line x1="600" y1="68" x2="600" y2="83.6" stroke="#000" stroke-width="1.5"/>
<text transform="translate(602.5 74) rotate(-90) scale(1 1)" font-size="8.5" fill="#000" stroke="#000" stroke-width="0.3">4A</text>
<line x1="606.9" y1="68" x2="606.9" y2="83.6" stroke="#000" stroke-width="1.5"/>
<text transform="translate(610 75) rotate(-90) scale(1 1)" font-size="8.5" fill="#000" stroke="#000" stroke-width="0.3">5A</text>
<line x1="615" y1="76.2" x2="610.9" y2="83.6" stroke="#000" stroke-width="1.5"/>
<text transform="translate(619 74.2) rotate(-90) scale(1 1)" font-size="8.5" fill="#000" stroke="#000" stroke-width="0.3">6A</text>
<g stroke="#999999" stroke-width="1.75" fill="none">
<line x1="461.92" y1="539.30" x2="461.92" y2="889.45"/>
<line x1="467.44" y1="539.30" x2="467.44" y2="889.45"/>
<line x1="471.94" y1="539.30" x2="471.94" y2="889.45"/>
<line x1="475.84" y1="539.30" x2="475.84" y2="889.45"/>
<line x1="479.28" y1="539.30" x2="479.28" y2="889.45"/>
<line x1="482.35" y1="539.30" x2="482.35" y2="889.45"/>
<line x1="502.58" y1="539.30" x2="502.58" y2="889.45"/>
<line x1="514.41" y1="539.30" x2="514.41" y2="889.45"/>
<line x1="522.81" y1="539.30" x2="522.81" y2="889.45"/>
<line x1="529.32" y1="539.30" x2="529.32" y2="889.45"/>
<line x1="534.64" y1="539.30" x2="534.64" y2="889.45"/>
<line x1="539.14" y1="539.30" x2="539.14" y2="889.45"/>
<line x1="543.04" y1="539.30" x2="543.04" y2="889.45"/>
<line x1="546.48" y1="539.30" x2="546.48" y2="889.45"/>
<line x1="549.55" y1="539.30" x2="549.55" y2="889.45"/>
<line x1="569.78" y1="539.30" x2="569.78" y2="889.45"/>
<line x1="581.61" y1="539.30" x2="581.61" y2="889.45"/>
<line x1="590.01" y1="539.30" x2="590.01" y2="889.45"/>
<line x1="596.52" y1="539.30" x2="596.52" y2="889.45"/>
<line x1="601.84" y1="539.30" x2="601.84" y2="889.45"/>
<line x1="606.34" y1="539.30" x2="606.34" y2="889.45"/>
<line x1="610.24" y1="539.30" x2="610.24" y2="889.45"/>
<line x1="613.68" y1="539.30" x2="613.68" y2="889.45"/>
<line x1="616.75" y1="539.30" x2="616.75" y2="889.45"/>
<line x1="636.98" y1="539.30" x2="636.98" y2="889.45"/>
<line x1="648.81" y1="539.30" x2="648.81" y2="889.45"/>
<line x1="657.21" y1="539.30" x2="657.21" y2="889.45"/>
<line x1="663.72" y1="539.30" x2="663.72" y2="889.45"/>
<line x1="669.04" y1="539.30" x2="669.04" y2="889.45"/>
<line x1="673.54" y1="539.30" x2="673.54" y2="889.45"/>
<line x1="677.44" y1="539.30" x2="677.44" y2="889.45"/>
<line x1="680.88" y1="539.30" x2="680.88" y2="889.45"/>
<line x1="683.95" y1="539.30" x2="683.95" y2="889.45"/>
<line x1="704.18" y1="539.30" x2="704.18" y2="889.45"/>
<line x1="716.01" y1="539.30" x2="716.01" y2="889.45"/>
<line x1="724.41" y1="539.30" x2="724.41" y2="889.45"/>
<line x1="730.92" y1="539.30" x2="730.92" y2="889.45"/>
<line x1="736.24" y1="539.30" x2="736.24" y2="889.45"/>
<line x1="740.74" y1="539.30" x2="740.74" y2="889.45"/>
<line x1="744.64" y1="539.30" x2="744.64" y2="889.45"/>
<line x1="748.08" y1="539.30" x2="748.08" y2="889.45"/>
<line x1="752.30" y1="539.30" x2="752.30" y2="889.45"/>
<line x1="461.92" y1="889.45" x2="752.30" y2="889.45"/>
<line x1="461.92" y1="868.37" x2="752.30" y2="868.37"/>
<line x1="461.92" y1="856.04" x2="752.30" y2="856.04"/>
<line x1="461.92" y1="847.29" x2="752.30" y2="847.29"/>
<line x1="461.92" y1="840.50" x2="752.30" y2="840.50"/>
<line x1="461.92" y1="834.96" x2="752.30" y2="834.96"/>
<line x1="461.92" y1="830.27" x2="752.30" y2="830.27"/>
<line x1="461.92" y1="826.21" x2="752.30" y2="826.21"/>
<line x1="461.92" y1="822.62" x2="752.30" y2="822.62"/>
<line x1="461.92" y1="819.42" x2="752.30" y2="819.42"/>
<line x1="461.92" y1="798.34" x2="752.30" y2="798.34"/>
<line x1="461.92" y1="786.01" x2="752.30" y2="786.01"/>
<line x1="461.92" y1="777.26" x2="752.30" y2="777.26"/>
<line x1="461.92" y1="770.47" x2="752.30" y2="770.47"/>
<line x1="461.92" y1="764.93" x2="752.30" y2="764.93"/>
<line x1="461.92" y1="760.24" x2="752.30" y2="760.24"/>
<line x1="461.92" y1="756.18" x2="752.30" y2="756.18"/>
<line x1="461.92" y1="752.59" x2="752.30" y2="752.59"/>
<line x1="461.92" y1="749.39" x2="752.30" y2="749.39"/>
<line x1="461.92" y1="728.31" x2="752.30" y2="728.31"/>
<line x1="461.92" y1="715.98" x2="752.30" y2="715.98"/>
<line x1="461.92" y1="707.23" x2="752.30" y2="707.23"/>
<line x1="461.92" y1="700.44" x2="752.30" y2="700.44"/>
<line x1="461.92" y1="694.90" x2="752.30" y2="694.90"/>
<line x1="461.92" y1="690.21" x2="752.30" y2="690.21"/>
<line x1="461.92" y1="686.15" x2="752.30" y2="686.15"/>
<line x1="461.92" y1="682.56" x2="752.30" y2="682.56"/>
<line x1="461.92" y1="679.36" x2="752.30" y2="679.36"/>
<line x1="461.92" y1="658.28" x2="752.30" y2="658.28"/>
<line x1="461.92" y1="645.95" x2="752.30" y2="645.95"/>
<line x1="461.92" y1="637.20" x2="752.30" y2="637.20"/>
<line x1="461.92" y1="630.41" x2="752.30" y2="630.41"/>
<line x1="461.92" y1="624.87" x2="752.30" y2="624.87"/>
<line x1="461.92" y1="620.18" x2="752.30" y2="620.18"/>
<line x1="461.92" y1="616.12" x2="752.30" y2="616.12"/>
<line x1="461.92" y1="612.53" x2="752.30" y2="612.53"/>
<line x1="461.92" y1="609.33" x2="752.30" y2="609.33"/>
<line x1="461.92" y1="588.25" x2="752.30" y2="588.25"/>
<line x1="461.92" y1="575.92" x2="752.30" y2="575.92"/>
<line x1="461.92" y1="567.17" x2="752.30" y2="567.17"/>
<line x1="461.92" y1="560.38" x2="752.30" y2="560.38"/>
<line x1="461.92" y1="554.84" x2="752.30" y2="554.84"/>
<line x1="461.92" y1="550.15" x2="752.30" y2="550.15"/>
<line x1="461.92" y1="546.09" x2="752.30" y2="546.09"/>
<line x1="461.92" y1="542.50" x2="752.30" y2="542.50"/>
<line x1="461.92" y1="539.30" x2="752.30" y2="539.30"/>
</g>
<g font-size="8.5" fill="#000" stroke="#000" stroke-width="0.4" text-anchor="end">
<text x="456.7" y="539.60">1000</text>
<text x="456.7" y="609.63">100</text>
<text x="456.7" y="679.96">10</text>
<text x="456.7" y="749.89">1</text>
<text x="456.7" y="820.22">0.1</text>
<text x="456.7" y="890.75">0.01</text>
</g>
<g font-size="8.5" fill="#000" stroke="#000" stroke-width="0.4" text-anchor="middle">
<text x="484.00" y="900.05">0.1</text>
<text x="548.80" y="900.05">1</text>
<text x="619.00" y="899.95">10</text>
<text x="683.60" y="901.05">100</text>
<text x="748.40" y="900.05">1000</text>
</g>
<text x="612.3" y="914.85" font-size="9.5" font-weight="bold" text-anchor="middle" stroke="#000" stroke-width="0.2">CURRENT IN AMPERES</text>
<text transform="translate(446.4 738.90) rotate(-90)" font-size="9.75" font-weight="bold" text-anchor="middle" stroke="#000" stroke-width="0.25">TIME IN SECONDS</text>
<g stroke="#119863" stroke-width="1.6" fill="none" stroke-linejoin="round">
<path d="M615.24 539.40 C615.33 540.41 615.60 543.42 615.78 545.44 C615.95 547.45 616.12 549.46 616.29 551.47 C616.45 553.48 616.61 555.50 616.76 557.51 C616.92 559.52 617.06 561.53 617.21 563.54 C617.36 565.56 617.50 567.57 617.63 569.58 C617.77 571.59 617.90 573.61 618.04 575.62 C618.17 577.63 618.29 579.64 618.42 581.65 C618.54 583.67 618.67 585.68 618.79 587.69 C618.91 589.70 619.03 591.71 619.14 593.73 C619.26 595.74 619.38 597.75 619.49 599.76 C619.61 601.77 619.72 603.79 619.84 605.80 C619.95 607.81 620.06 609.82 620.18 611.83 C620.29 613.85 620.40 615.86 620.52 617.87 C620.63 619.88 620.75 621.89 620.87 623.91 C620.98 625.92 621.10 627.93 621.22 629.94 C621.34 631.96 621.46 633.97 621.58 635.98 C621.71 637.99 621.83 640.00 621.96 642.02 C622.09 644.03 622.23 646.04 622.36 648.05 C622.50 650.06 622.64 652.08 622.78 654.09 C622.92 656.10 623.07 658.11 623.22 660.12 C623.37 662.14 623.53 664.15 623.69 666.16 C623.85 668.17 624.02 670.18 624.19 672.20 C624.36 674.21 624.54 676.22 624.72 678.23 C624.91 680.24 625.09 682.26 625.29 684.27 C625.49 686.28 625.69 688.29 625.90 690.31 C626.11 692.32 626.33 694.33 626.56 696.34 C626.78 698.35 627.01 700.37 627.26 702.38 C627.50 704.39 627.75 706.40 628.01 708.41 C628.26 710.43 628.53 712.44 628.81 714.45 C629.09 716.46 629.37 718.47 629.67 720.49 C629.97 722.50 630.27 724.51 630.59 726.52 C630.91 728.53 631.23 730.55 631.57 732.56 C631.91 734.57 632.26 736.58 632.62 738.59 C632.98 740.61 633.35 742.62 633.74 744.63 C634.12 746.64 634.52 748.66 634.93 750.67 C635.34 752.68 635.76 754.69 636.20 756.70 C636.63 758.72 637.08 760.73 637.54 762.74 C638.01 764.75 638.48 766.76 638.97 768.78 C639.46 770.79 639.97 772.80 640.49 774.81 C641.01 776.82 641.54 778.84 642.09 780.85 C642.64 782.86 643.21 784.87 643.80 786.88 C644.38 788.90 644.99 790.91 645.61 792.92 C646.23 794.93 646.87 796.94 647.53 798.96 C648.19 800.97 648.87 802.98 649.57 804.99 C650.27 807.01 650.99 809.02 651.73 811.03 C652.48 813.04 653.24 815.05 654.03 817.07 C654.82 819.08 655.63 821.09 656.47 823.10 C657.30 825.11 658.16 827.13 659.05 829.14 C659.93 831.15 660.84 833.16 661.78 835.17 C662.71 837.19 663.68 839.20 664.64 841.21 C665.60 843.22 666.58 845.23 667.52 847.25 C668.46 849.26 669.40 851.27 670.27 853.28 C671.15 855.29 671.97 857.31 672.78 859.32 C673.60 861.33 674.35 863.34 675.14 865.36 C675.92 867.37 676.70 869.38 677.51 871.39 C678.33 873.40 679.15 875.42 680.04 877.43 C680.92 879.44 681.84 881.45 682.83 883.46 C683.82 885.48 685.47 888.49 686.00 889.50"/>
<path d="M622.49 539.40 C622.56 540.41 622.77 543.42 622.91 545.44 C623.05 547.45 623.19 549.46 623.32 551.47 C623.46 553.48 623.59 555.50 623.73 557.51 C623.86 559.52 623.99 561.53 624.12 563.54 C624.25 565.56 624.39 567.57 624.52 569.58 C624.65 571.59 624.78 573.61 624.91 575.62 C625.04 577.63 625.17 579.64 625.30 581.65 C625.44 583.67 625.57 585.68 625.70 587.69 C625.83 589.70 625.97 591.71 626.10 593.73 C626.24 595.74 626.38 597.75 626.51 599.76 C626.65 601.77 626.79 603.79 626.93 605.80 C627.07 607.81 627.22 609.82 627.36 611.83 C627.51 613.85 627.65 615.86 627.80 617.87 C627.95 619.88 628.11 621.89 628.26 623.91 C628.42 625.92 628.58 627.93 628.74 629.94 C628.90 631.96 629.07 633.97 629.23 635.98 C629.40 637.99 629.57 640.00 629.75 642.02 C629.93 644.03 630.11 646.04 630.29 648.05 C630.47 650.06 630.66 652.08 630.86 654.09 C631.05 656.10 631.25 658.11 631.45 660.12 C631.65 662.14 631.86 664.15 632.07 666.16 C632.28 668.17 632.50 670.18 632.72 672.20 C632.94 674.21 633.17 676.22 633.40 678.23 C633.63 680.24 633.87 682.26 634.11 684.27 C634.35 686.28 634.60 688.29 634.85 690.31 C635.11 692.32 635.36 694.33 635.63 696.34 C635.89 698.35 636.16 700.37 636.44 702.38 C636.71 704.39 637.00 706.40 637.28 708.41 C637.57 710.43 637.86 712.44 638.16 714.45 C638.46 716.46 638.77 718.47 639.08 720.49 C639.40 722.50 639.71 724.51 640.04 726.52 C640.36 728.53 640.70 730.55 641.04 732.56 C641.37 734.57 641.72 736.58 642.07 738.59 C642.42 740.61 642.78 742.62 643.15 744.63 C643.51 746.64 643.89 748.66 644.27 750.67 C644.65 752.68 645.04 754.69 645.43 756.70 C645.83 758.72 646.23 760.73 646.64 762.74 C647.05 764.75 647.47 766.76 647.89 768.78 C648.32 770.79 648.75 772.80 649.19 774.81 C649.64 776.82 650.09 778.84 650.56 780.85 C651.03 782.86 651.51 784.87 652.01 786.88 C652.52 788.90 653.03 790.91 653.58 792.92 C654.12 794.93 654.68 796.94 655.28 798.96 C655.87 800.97 656.48 802.98 657.13 804.99 C657.78 807.01 658.46 809.02 659.17 811.03 C659.88 813.04 660.62 815.05 661.41 817.07 C662.19 819.08 663.02 821.09 663.87 823.10 C664.72 825.11 665.62 827.13 666.51 829.14 C667.39 831.15 668.31 833.16 669.20 835.17 C670.08 837.19 670.97 839.20 671.82 841.21 C672.68 843.22 673.50 845.23 674.33 847.25 C675.16 849.26 675.96 851.27 676.80 853.28 C677.63 855.29 678.46 857.31 679.33 859.32 C680.20 861.33 681.09 863.34 682.03 865.36 C682.97 867.37 683.96 869.38 684.95 871.39 C685.95 873.40 686.99 875.42 688.01 877.43 C689.03 879.44 690.07 881.45 691.06 883.46 C692.06 885.48 693.51 888.49 694.00 889.50"/>
<path d="M628.74 539.40 C628.76 540.41 628.83 543.42 628.88 545.44 C628.93 547.45 628.98 549.46 629.03 551.47 C629.08 553.48 629.14 555.50 629.19 557.51 C629.25 559.52 629.31 561.53 629.37 563.54 C629.43 565.56 629.49 567.57 629.55 569.58 C629.62 571.59 629.69 573.61 629.76 575.62 C629.83 577.63 629.90 579.64 629.98 581.65 C630.06 583.67 630.14 585.68 630.22 587.69 C630.30 589.70 630.39 591.71 630.48 593.73 C630.57 595.74 630.66 597.75 630.76 599.76 C630.85 601.77 630.95 603.79 631.06 605.80 C631.16 607.81 631.27 609.82 631.38 611.83 C631.50 613.85 631.61 615.86 631.74 617.87 C631.86 619.88 631.98 621.89 632.11 623.91 C632.24 625.92 632.38 627.93 632.52 629.94 C632.66 631.96 632.80 633.97 632.95 635.98 C633.10 637.99 633.25 640.00 633.41 642.02 C633.57 644.03 633.74 646.04 633.91 648.05 C634.08 650.06 634.26 652.08 634.44 654.09 C634.62 656.10 634.81 658.11 635.00 660.12 C635.20 662.14 635.40 664.15 635.60 666.16 C635.81 668.17 636.02 670.18 636.24 672.20 C636.46 674.21 636.68 676.22 636.91 678.23 C637.15 680.24 637.38 682.26 637.63 684.27 C637.87 686.28 638.13 688.29 638.39 690.31 C638.65 692.32 638.91 694.33 639.18 696.34 C639.46 698.35 639.74 700.37 640.03 702.38 C640.32 704.39 640.61 706.40 640.92 708.41 C641.22 710.43 641.53 712.44 641.85 714.45 C642.17 716.46 642.50 718.47 642.84 720.49 C643.17 722.50 643.52 724.51 643.87 726.52 C644.22 728.53 644.58 730.55 644.95 732.56 C645.32 734.57 645.70 736.58 646.09 738.59 C646.47 740.61 646.87 742.62 647.28 744.63 C647.68 746.64 648.10 748.66 648.52 750.67 C648.94 752.68 649.38 754.69 649.82 756.70 C650.26 758.72 650.72 760.73 651.18 762.74 C651.64 764.75 652.11 766.76 652.60 768.78 C653.08 770.79 653.57 772.80 654.07 774.81 C654.58 776.82 655.09 778.84 655.62 780.85 C656.15 782.86 656.69 784.87 657.25 786.88 C657.80 788.90 658.37 790.91 658.96 792.92 C659.55 794.93 660.15 796.94 660.77 798.96 C661.40 800.97 662.04 802.98 662.70 804.99 C663.36 807.01 664.04 809.02 664.74 811.03 C665.44 813.04 666.16 815.05 666.91 817.07 C667.66 819.08 668.43 821.09 669.22 823.10 C670.01 825.11 670.83 827.13 671.66 829.14 C672.50 831.15 673.35 833.16 674.22 835.17 C675.09 837.19 675.98 839.20 676.87 841.21 C677.77 843.22 678.69 845.23 679.61 847.25 C680.53 849.26 681.46 851.27 682.40 853.28 C683.34 855.29 684.29 857.31 685.24 859.32 C686.19 861.33 687.15 863.34 688.10 865.36 C689.06 867.37 690.02 869.38 690.98 871.39 C691.93 873.40 692.89 875.42 693.84 877.43 C694.80 879.44 695.75 881.45 696.69 883.46 C697.63 885.48 699.02 888.49 699.49 889.50"/>
<path d="M635.60 539.40 C635.64 540.41 635.77 543.42 635.85 545.44 C635.93 547.45 636.01 549.46 636.08 551.47 C636.16 553.48 636.23 555.50 636.31 557.51 C636.38 559.52 636.45 561.53 636.52 563.54 C636.60 565.56 636.67 567.57 636.74 569.58 C636.81 571.59 636.88 573.61 636.95 575.62 C637.02 577.63 637.10 579.64 637.17 581.65 C637.25 583.67 637.32 585.68 637.40 587.69 C637.48 589.70 637.56 591.71 637.65 593.73 C637.73 595.74 637.82 597.75 637.91 599.76 C638.00 601.77 638.10 603.79 638.20 605.80 C638.30 607.81 638.40 609.82 638.52 611.83 C638.63 613.85 638.74 615.86 638.86 617.87 C638.99 619.88 639.11 621.89 639.25 623.91 C639.39 625.92 639.53 627.93 639.68 629.94 C639.83 631.96 639.99 633.97 640.15 635.98 C640.32 637.99 640.49 640.00 640.68 642.02 C640.86 644.03 641.05 646.04 641.26 648.05 C641.46 650.06 641.67 652.08 641.90 654.09 C642.12 656.10 642.35 658.11 642.59 660.12 C642.84 662.14 643.09 664.15 643.35 666.16 C643.61 668.17 643.89 670.18 644.17 672.20 C644.45 674.21 644.74 676.22 645.04 678.23 C645.34 680.24 645.65 682.26 645.97 684.27 C646.29 686.28 646.62 688.29 646.95 690.31 C647.29 692.32 647.63 694.33 647.99 696.34 C648.34 698.35 648.71 700.37 649.08 702.38 C649.45 704.39 649.83 706.40 650.22 708.41 C650.60 710.43 651.00 712.44 651.40 714.45 C651.81 716.46 652.22 718.47 652.64 720.49 C653.06 722.50 653.49 724.51 653.93 726.52 C654.36 728.53 654.81 730.55 655.26 732.56 C655.71 734.57 656.17 736.58 656.63 738.59 C657.10 740.61 657.57 742.62 658.05 744.63 C658.53 746.64 659.02 748.66 659.52 750.67 C660.01 752.68 660.51 754.69 661.03 756.70 C661.54 758.72 662.06 760.73 662.59 762.74 C663.11 764.75 663.65 766.76 664.20 768.78 C664.75 770.79 665.30 772.80 665.87 774.81 C666.43 776.82 667.01 778.84 667.60 780.85 C668.19 782.86 668.79 784.87 669.40 786.88 C670.01 788.90 670.63 790.91 671.26 792.92 C671.89 794.93 672.54 796.94 673.20 798.96 C673.86 800.97 674.53 802.98 675.21 804.99 C675.89 807.01 676.59 809.02 677.30 811.03 C678.01 813.04 678.74 815.05 679.48 817.07 C680.22 819.08 680.97 821.09 681.74 823.10 C682.51 825.11 683.30 827.13 684.10 829.14 C684.90 831.15 685.71 833.16 686.54 835.17 C687.38 837.19 688.22 839.20 689.09 841.21 C689.95 843.22 690.83 845.23 691.73 847.25 C692.62 849.26 693.53 851.27 694.45 853.28 C695.38 855.29 696.32 857.31 697.27 859.32 C698.22 861.33 699.19 863.34 700.16 865.36 C701.14 867.37 702.14 869.38 703.14 871.39 C704.15 873.40 705.17 875.42 706.20 877.43 C707.23 879.44 708.27 881.45 709.32 883.46 C710.38 885.48 711.99 888.49 712.52 889.50"/>
<path d="M646.53 539.40 C646.58 540.41 646.72 543.42 646.82 545.44 C646.91 547.45 647.01 549.46 647.12 551.47 C647.22 553.48 647.33 555.50 647.44 557.51 C647.55 559.52 647.67 561.53 647.79 563.54 C647.90 565.56 648.02 567.57 648.15 569.58 C648.28 571.59 648.40 573.61 648.54 575.62 C648.67 577.63 648.81 579.64 648.95 581.65 C649.09 583.67 649.23 585.68 649.38 587.69 C649.53 589.70 649.69 591.71 649.85 593.73 C650.00 595.74 650.17 597.75 650.33 599.76 C650.50 601.77 650.67 603.79 650.85 605.80 C651.03 607.81 651.21 609.82 651.40 611.83 C651.59 613.85 651.78 615.86 651.98 617.87 C652.18 619.88 652.38 621.89 652.59 623.91 C652.80 625.92 653.01 627.93 653.23 629.94 C653.45 631.96 653.68 633.97 653.91 635.98 C654.14 637.99 654.38 640.00 654.62 642.02 C654.87 644.03 655.12 646.04 655.37 648.05 C655.63 650.06 655.89 652.08 656.16 654.09 C656.43 656.10 656.71 658.11 656.99 660.12 C657.27 662.14 657.56 664.15 657.85 666.16 C658.14 668.17 658.44 670.18 658.74 672.20 C659.05 674.21 659.36 676.22 659.67 678.23 C659.99 680.24 660.31 682.26 660.63 684.27 C660.96 686.28 661.29 688.29 661.62 690.31 C661.96 692.32 662.30 694.33 662.64 696.34 C662.99 698.35 663.33 700.37 663.69 702.38 C664.04 704.39 664.40 706.40 664.76 708.41 C665.12 710.43 665.48 712.44 665.85 714.45 C666.22 716.46 666.59 718.47 666.97 720.49 C667.34 722.50 667.72 724.51 668.11 726.52 C668.49 728.53 668.87 730.55 669.26 732.56 C669.65 734.57 670.04 736.58 670.44 738.59 C670.83 740.61 671.23 742.62 671.63 744.63 C672.03 746.64 672.43 748.66 672.83 750.67 C673.24 752.68 673.65 754.69 674.06 756.70 C674.47 758.72 674.88 760.73 675.29 762.74 C675.71 764.75 676.13 766.76 676.55 768.78 C676.98 770.79 677.40 772.80 677.83 774.81 C678.26 776.82 678.70 778.84 679.13 780.85 C679.57 782.86 680.01 784.87 680.46 786.88 C680.90 788.90 681.35 790.91 681.81 792.92 C682.26 794.93 682.72 796.94 683.18 798.96 C683.65 800.97 684.11 802.98 684.59 804.99 C685.06 807.01 685.54 809.02 686.02 811.03 C686.50 813.04 686.99 815.05 687.49 817.07 C687.98 819.08 688.48 821.09 688.98 823.10 C689.49 825.11 690.00 827.13 690.51 829.14 C691.03 831.15 691.55 833.16 692.08 835.17 C692.61 837.19 693.14 839.20 693.68 841.21 C694.22 843.22 694.77 845.23 695.32 847.25 C695.88 849.26 696.44 851.27 697.01 853.28 C697.57 855.29 698.15 857.31 698.73 859.32 C699.31 861.33 699.90 863.34 700.49 865.36 C701.09 867.37 701.69 869.38 702.30 871.39 C702.91 873.40 703.53 875.42 704.16 877.43 C704.79 879.44 705.42 881.45 706.06 883.46 C706.71 885.48 707.69 888.49 708.01 889.50"/>
<path d="M650.98 539.40 C651.01 540.41 651.10 543.42 651.18 545.44 C651.25 547.45 651.33 549.46 651.42 551.47 C651.50 553.48 651.60 555.50 651.69 557.51 C651.79 559.52 651.90 561.53 652.01 563.54 C652.12 565.56 652.24 567.57 652.36 569.58 C652.48 571.59 652.61 573.61 652.75 575.62 C652.88 577.63 653.02 579.64 653.17 581.65 C653.32 583.67 653.47 585.68 653.63 587.69 C653.79 589.70 653.95 591.71 654.12 593.73 C654.30 595.74 654.47 597.75 654.66 599.76 C654.84 601.77 655.03 603.79 655.22 605.80 C655.42 607.81 655.62 609.82 655.82 611.83 C656.03 613.85 656.24 615.86 656.46 617.87 C656.67 619.88 656.90 621.89 657.13 623.91 C657.36 625.92 657.59 627.93 657.83 629.94 C658.07 631.96 658.32 633.97 658.57 635.98 C658.82 637.99 659.08 640.00 659.34 642.02 C659.60 644.03 659.87 646.04 660.14 648.05 C660.42 650.06 660.70 652.08 660.98 654.09 C661.27 656.10 661.56 658.11 661.85 660.12 C662.15 662.14 662.45 664.15 662.75 666.16 C663.06 668.17 663.37 670.18 663.69 672.20 C664.01 674.21 664.33 676.22 664.66 678.23 C664.98 680.24 665.32 682.26 665.65 684.27 C665.99 686.28 666.34 688.29 666.68 690.31 C667.03 692.32 667.39 694.33 667.74 696.34 C668.10 698.35 668.47 700.37 668.84 702.38 C669.20 704.39 669.58 706.40 669.96 708.41 C670.34 710.43 670.72 712.44 671.11 714.45 C671.50 716.46 671.89 718.47 672.29 720.49 C672.69 722.50 673.10 724.51 673.50 726.52 C673.91 728.53 674.33 730.55 674.75 732.56 C675.16 734.57 675.59 736.58 676.02 738.59 C676.44 740.61 676.88 742.62 677.32 744.63 C677.75 746.64 678.20 748.66 678.64 750.67 C679.09 752.68 679.54 754.69 680.00 756.70 C680.46 758.72 680.92 760.73 681.38 762.74 C681.85 764.75 682.32 766.76 682.80 768.78 C683.27 770.79 683.75 772.80 684.24 774.81 C684.72 776.82 685.21 778.84 685.70 780.85 C686.20 782.86 686.69 784.87 687.20 786.88 C687.70 788.90 688.21 790.91 688.72 792.92 C689.23 794.93 689.74 796.94 690.26 798.96 C690.78 800.97 691.31 802.98 691.84 804.99 C692.37 807.01 692.90 809.02 693.44 811.03 C693.97 813.04 694.51 815.05 695.06 817.07 C695.61 819.08 696.16 821.09 696.71 823.10 C697.26 825.11 697.82 827.13 698.38 829.14 C698.95 831.15 699.51 833.16 700.08 835.17 C700.65 837.19 701.23 839.20 701.81 841.21 C702.39 843.22 702.97 845.23 703.56 847.25 C704.14 849.26 704.73 851.27 705.33 853.28 C705.92 855.29 706.52 857.31 707.12 859.32 C707.73 861.33 708.33 863.34 708.94 865.36 C709.55 867.37 710.17 869.38 710.79 871.39 C711.40 873.40 712.03 875.42 712.65 877.43 C713.28 879.44 713.91 881.45 714.54 883.46 C715.17 885.48 716.13 888.49 716.45 889.50"/>
<path d="M653.74 539.40 C653.76 540.41 653.82 543.42 653.87 545.44 C653.92 547.45 653.98 549.46 654.05 551.47 C654.12 553.48 654.20 555.50 654.29 557.51 C654.38 559.52 654.48 561.53 654.58 563.54 C654.69 565.56 654.80 567.57 654.92 569.58 C655.04 571.59 655.17 573.61 655.31 575.62 C655.45 577.63 655.60 579.64 655.75 581.65 C655.91 583.67 656.07 585.68 656.24 587.69 C656.41 589.70 656.59 591.71 656.78 593.73 C656.96 595.74 657.16 597.75 657.36 599.76 C657.56 601.77 657.77 603.79 657.99 605.80 C658.21 607.81 658.43 609.82 658.66 611.83 C658.89 613.85 659.13 615.86 659.38 617.87 C659.62 619.88 659.88 621.89 660.14 623.91 C660.40 625.92 660.66 627.93 660.94 629.94 C661.21 631.96 661.49 633.97 661.78 635.98 C662.06 637.99 662.36 640.00 662.66 642.02 C662.96 644.03 663.26 646.04 663.57 648.05 C663.89 650.06 664.20 652.08 664.53 654.09 C664.85 656.10 665.18 658.11 665.52 660.12 C665.86 662.14 666.20 664.15 666.55 666.16 C666.90 668.17 667.25 670.18 667.61 672.20 C667.97 674.21 668.34 676.22 668.71 678.23 C669.08 680.24 669.45 682.26 669.83 684.27 C670.22 686.28 670.60 688.29 670.99 690.31 C671.39 692.32 671.78 694.33 672.18 696.34 C672.59 698.35 672.99 700.37 673.40 702.38 C673.82 704.39 674.23 706.40 674.65 708.41 C675.07 710.43 675.50 712.44 675.93 714.45 C676.36 716.46 676.79 718.47 677.23 720.49 C677.67 722.50 678.11 724.51 678.56 726.52 C679.01 728.53 679.46 730.55 679.91 732.56 C680.37 734.57 680.83 736.58 681.29 738.59 C681.75 740.61 682.22 742.62 682.69 744.63 C683.16 746.64 683.63 748.66 684.11 750.67 C684.58 752.68 685.06 754.69 685.55 756.70 C686.03 758.72 686.52 760.73 687.01 762.74 C687.50 764.75 687.99 766.76 688.49 768.78 C688.98 770.79 689.48 772.80 689.98 774.81 C690.49 776.82 690.99 778.84 691.50 780.85 C692.00 782.86 692.51 784.87 693.03 786.88 C693.54 788.90 694.05 790.91 694.57 792.92 C695.09 794.93 695.61 796.94 696.13 798.96 C696.65 800.97 697.17 802.98 697.70 804.99 C698.22 807.01 698.75 809.02 699.28 811.03 C699.81 813.04 700.34 815.05 700.87 817.07 C701.40 819.08 701.94 821.09 702.47 823.10 C703.01 825.11 703.55 827.13 704.09 829.14 C704.62 831.15 705.16 833.16 705.70 835.17 C706.24 837.19 706.79 839.20 707.33 841.21 C707.87 843.22 708.42 845.23 708.96 847.25 C709.50 849.26 710.05 851.27 710.60 853.28 C711.14 855.29 711.69 857.31 712.24 859.32 C712.78 861.33 713.33 863.34 713.88 865.36 C714.43 867.37 714.97 869.38 715.52 871.39 C716.07 873.40 716.62 875.42 717.17 877.43 C717.71 879.44 718.26 881.45 718.81 883.46 C719.36 885.48 720.18 888.49 720.45 889.50"/>
</g>
<line x1="615" y1="530.6" x2="615.2" y2="539.2" stroke="#000" stroke-width="1.5"/>
<text transform="translate(616.9 528.3) rotate(-90) scale(0.87 1)" font-size="8.5" fill="#000" stroke="#000" stroke-width="0.3">8A</text>
<line x1="622.5" y1="530.6" x2="622.5" y2="539.2" stroke="#000" stroke-width="1.5"/>
<text transform="translate(625.2 528.8) rotate(-90) scale(0.87 1)" font-size="8.5" fill="#000" stroke="#000" stroke-width="0.3">9A</text>
<line x1="629" y1="528" x2="628.8" y2="539.2" stroke="#000" stroke-width="1.5"/>
<text transform="translate(632.4 530.6) rotate(-90) scale(0.87 1)" font-size="8.5" fill="#000" stroke="#000" stroke-width="0.3">10A</text>
<line x1="638.1" y1="531.3" x2="635.3" y2="539.2" stroke="#000" stroke-width="1.5"/>
<text transform="translate(641.5 531.3) rotate(-90) scale(0.87 1)" font-size="8.5" fill="#000" stroke="#000" stroke-width="0.3">15A</text>
<line x1="646" y1="530.6" x2="646.8" y2="539.2" stroke="#000" stroke-width="1.5"/>
<text transform="translate(648.7 530.6) rotate(-90) scale(0.87 1)" font-size="8.5" fill="#000" stroke="#000" stroke-width="0.3">20A</text>
<line x1="653.75" y1="531.3" x2="650.9" y2="539.2" stroke="#000" stroke-width="1.5"/>
<text transform="translate(657.5 530.6) rotate(-90) scale(0.87 1)" font-size="8.5" fill="#000" stroke="#000" stroke-width="0.3">25A</text>
<line x1="661.9" y1="531.5" x2="653.75" y2="539.2" stroke="#000" stroke-width="1.5"/>
<text transform="translate(667.5 532.3) rotate(-90) scale(0.87 1)" font-size="8.5" fill="#000" stroke="#000" stroke-width="0.3">30A</text>
</svg>
</body></html>
